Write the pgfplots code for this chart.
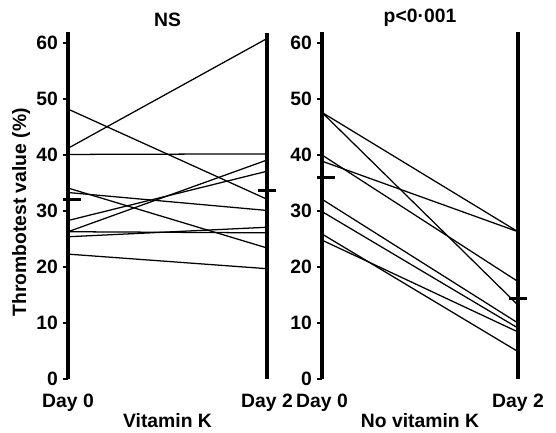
\documentclass[border=0pt]{standalone}
\usepackage{fontspec}
\setmainfont{Liberation Sans}
\usepackage{pgfplots}
\pgfplotsset{compat=1.18}
\begin{document}
\begin{tikzpicture}
\useasboundingbox (0pt,0pt) rectangle (417pt,-324pt);
\pgfplotsset{
  panel/.style={
    scale only axis, height=260.4pt, ymin=0, ymax=62, xmin=0, xmax=1, clip=false,
    axis y line*=left, axis x line*=bottom,
    x axis line style={draw=none}, xtick style={draw=none},
    y axis line style={line width=2.4pt, -},
    ytick={0,10,...,60}, tick align=outside, major tick length=4pt,
    ytick style={line width=1pt, black},
    xtick={0,1}, xticklabels={Day 0, Day 2},
    tick label style={font=\fontsize{14.5}{16}\selectfont\bfseries},
    xticklabel style={inner sep=0pt, yshift=-7pt},
    /pgf/number format/assume math mode=true,
    label style={font=\fontsize{14.5}{16}\selectfont\bfseries},
    xlabel style={inner sep=0pt, yshift=-1.5pt},
    title style={font=\fontsize{14.5}{16}\selectfont\bfseries, inner sep=0pt, yshift=-2pt},
    cycle list={{black, solid, mark=none}},
    every axis plot/.append style={line width=0.95pt, black},
  },
  meanmark/.style={only marks, mark=-, mark size=6.5pt, mark options={line width=2.3pt, solid}},
}
% Left panel: Vitamin K
\begin{axis}[panel, at={(51pt,-284.25pt)}, anchor=south west, width=149.25pt,
  title={NS}, xlabel={Vitamin K}, ylabel={Thrombotest value (\%)},
  ylabel style={at={(axis description cs:-0.235,0.48)}, anchor=center}]
\addplot coordinates {(0,41.2) (1,60.8)};
\addplot coordinates {(0,48.2) (1,32.1)};
\addplot coordinates {(0,40.1) (1,40.2)};
\addplot coordinates {(0,34.1) (1,23.4)};
\addplot coordinates {(0,33.3) (1,30.1)};
\addplot coordinates {(0,28.3) (1,37.1)};
\addplot coordinates {(0,26.3) (1,39.1)};
\addplot coordinates {(0,26.3) (1,26.1)};
\addplot coordinates {(0,25.4) (1,27.1)};
\addplot coordinates {(0,22.3) (1,19.7)};
\addplot[black, line width=2.4pt] coordinates {(1,0) (1,61.8)};
\addplot[black, meanmark] coordinates {(0.02,32.0) (1,33.6)};
\end{axis}
% Right panel: No vitamin K
\begin{axis}[panel, at={(241.5pt,-284.25pt)}, anchor=south west, width=147pt,
  title={p<0·001}, xlabel={No vitamin K}]
\addplot coordinates {(0,47.6) (1,26.3)};
\addplot coordinates {(0,47.6) (1,13.2)};
\addplot coordinates {(0,40.0) (1,17.4)};
\addplot coordinates {(0,38.9) (1,26.3)};
\addplot coordinates {(0,32.1) (1,10.0)};
\addplot coordinates {(0,29.9) (1,9.1)};
\addplot coordinates {(0,25.9) (1,4.9)};
\addplot coordinates {(0,24.8) (1,8.4)};
\addplot[black, line width=2.4pt] coordinates {(1,0) (1,62)};
\addplot[black, meanmark] coordinates {(0.02,35.9) (1,14.3)};
\end{axis}
\end{tikzpicture}
\end{document}
